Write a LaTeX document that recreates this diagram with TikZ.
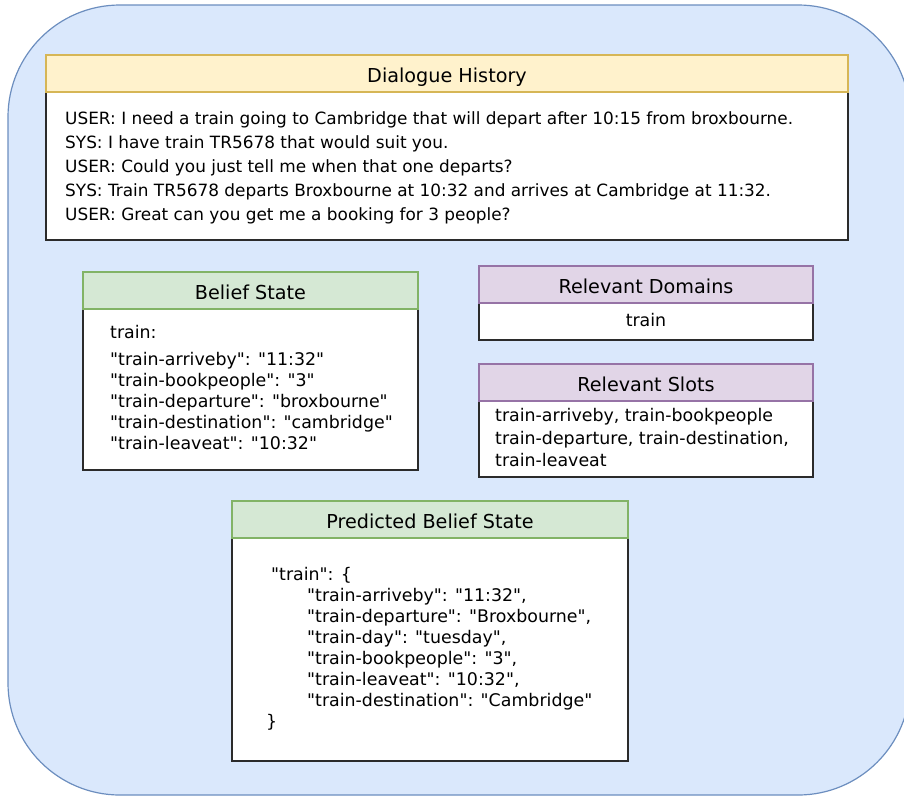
\documentclass[tikz,border=0pt]{standalone}
\usepackage{fontspec}
\setmainfont{DejaVu Sans}[Ligatures=TeXOff]

\definecolor{bgfill}{HTML}{DAE8FC}
\definecolor{bgline}{HTML}{6C8EBF}
\definecolor{yfill}{HTML}{FFF2CC}
\definecolor{yline}{HTML}{D6B656}
\definecolor{gfill}{HTML}{D5E8D4}
\definecolor{gline}{HTML}{82B366}
\definecolor{pfill}{HTML}{E1D5E7}
\definecolor{pline}{HTML}{9673A6}
\definecolor{bodyline}{HTML}{2B2B2B}

\begin{document}
\begin{tikzpicture}[x=1pt,y=-1pt,
  panel/.style={rectangle, anchor=north west, inner sep=0pt, outer sep=0pt, line width=1.2pt},
  headbox/.style={panel, minimum height=37pt},
  bodybox/.style={panel, draw=bodyline, fill=white},
  titletext/.style={anchor=base, inner sep=0pt, font=\fontsize{19.2}{23}\selectfont},
  linetext/.style={anchor=base west, inner sep=0pt, font=\fontsize{17.4}{21}\selectfont},
  histtext/.style={linetext, font=\fontsize{16.9}{21}\selectfont},
]
\useasboundingbox (0,0) rectangle (904,796);
\clip (0,0) rectangle (904,796);

% outer container
\draw[draw=bgline, fill=bgfill, line width=1.2pt, rounded corners=112pt] (8,5) rectangle (910,795);

% ---- Dialogue History ----
\node[bodybox, minimum width=802pt, minimum height=148pt] (histbody) at (46,92) {};
\node[headbox, draw=yline, fill=yfill, minimum width=802pt] (histhead) at (46,55) {};
\node[titletext] (histtitle) at (447,82.3) {Dialogue History};
\foreach \ln [count=\i from 0] in {
  {USER: I need a train going to Cambridge that will depart after 10:15 from broxbourne.},
  {SYS: I have train TR5678 that would suit you.},
  {USER: Could you just tell me when that one departs?},
  {SYS: Train TR5678 departs Broxbourne at 10:32 and arrives at Cambridge at 11:32.},
  {USER: Great can you get me a booking for 3 people?}}
  \node[histtext] (hist\i) at (65,{124.5+24*\i}) {\ln};

% ---- Belief State ----
\node[bodybox, minimum width=335pt, minimum height=161pt] (bsbody) at (83,309) {};
\node[headbox, draw=gline, fill=gfill, minimum width=335pt] (bshead) at (83,272) {};
\node[titletext] (bstitle) at (250.5,299) {Belief State};
\node[linetext] (bs0) at (110,338.5) {train:};
\foreach \ln [count=\i] in {
  {"train-arriveby": "11:32"},
  {"train-bookpeople": "3"},
  {"train-departure": "broxbourne"},
  {"train-destination": "cambridge"},
  {"train-leaveat": "10:32"}}
  \node[linetext] (bs\i) at (110,{344+21*\i}) {\ln};

% ---- Relevant Domains ----
\node[bodybox, minimum width=334pt, minimum height=37pt] (dombody) at (479,303) {};
\node[headbox, draw=pline, fill=pfill, minimum width=334pt] (domhead) at (479,266) {};
\node[titletext] (domtitle) at (646,293) {Relevant Domains};
\node[linetext, anchor=base] (dom0) at (646,326.7) {train};

% ---- Relevant Slots ----
\node[bodybox, minimum width=334pt, minimum height=76pt] (slotbody) at (479,401) {};
\node[headbox, draw=pline, fill=pfill, minimum width=334pt] (slothead) at (479,364) {};
\node[titletext] (slottitle) at (646,391) {Relevant Slots};
\foreach \ln [count=\i from 0] in {
  {train-arriveby, train-bookpeople},
  {train-departure, train-destination,},
  {train-leaveat}}
  \node[linetext] (slot\i) at (495,{421.5+22.5*\i}) {\ln};

% ---- Predicted Belief State ----
\node[bodybox, minimum width=396pt, minimum height=223pt] (pbbody) at (232,538) {};
\node[headbox, draw=gline, fill=gfill, minimum width=396pt] (pbhead) at (232,501) {};
\node[titletext] (pbtitle) at (430,528) {Predicted Belief State};
\node[linetext] (pbopen) at (271,580.7) {"train": \{};
\foreach \ln [count=\i from 0] in {
  {"train-arriveby": "11:32",},
  {"train-departure": "Broxbourne",},
  {"train-day": "tuesday",},
  {"train-bookpeople": "3",},
  {"train-leaveat": "10:32",},
  {"train-destination": "Cambridge"}}
  \node[linetext] (pb\i) at (307,{601.7+21*\i}) {\ln};
\node[linetext] (pbclose) at (266,727.7) {\}};
\end{tikzpicture}
\end{document}
